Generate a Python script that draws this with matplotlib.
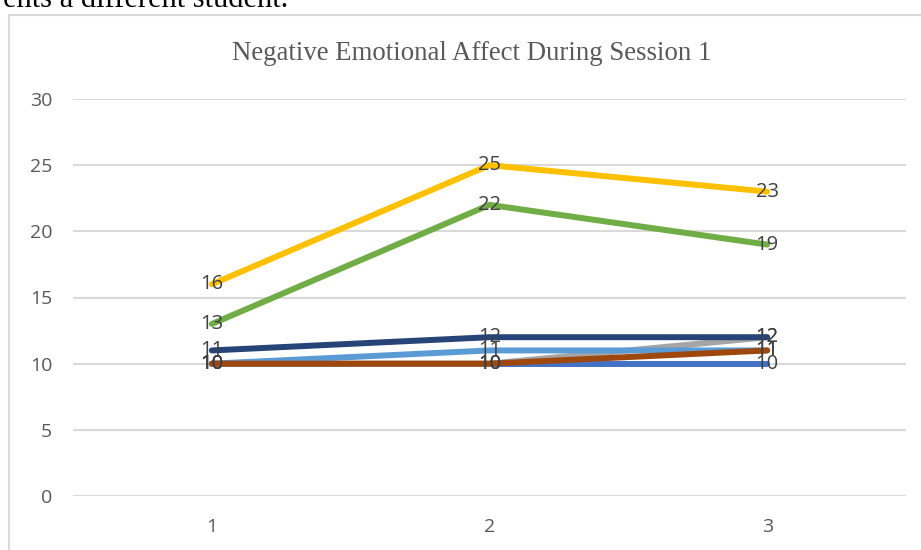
import matplotlib
matplotlib.use("Agg")
import matplotlib.pyplot as plt
from matplotlib.patches import Rectangle

# Sessions on the category axis
sessions = [1, 2, 3]

# Scores per student (one line each)
student_a = [10, 10, 10]   # blue
student_b = [10, 10, 12]   # gray
student_c = [16, 25, 23]   # gold
student_d = [10, 11, 11]   # light blue
student_e = [13, 22, 19]   # green
student_f = [11, 12, 12]   # navy
student_g = [10, 10, 11]   # brown

series = [
    (student_a, "#4472C4"),
    (student_b, "#A5A5A5"),
    (student_c, "#FFC000"),
    (student_d, "#5B9BD5"),
    (student_e, "#70AD47"),
    (student_f, "#264478"),
    (student_g, "#9E480E"),
]

y_ticks = [0, 5, 10, 15, 20, 25, 30]
title = "Negative Emotional Affect During Session 1"

W, H = 921, 550
fig = plt.figure(figsize=(W / 100, H / 100), dpi=100)
fig.patch.set_facecolor("white")

sans = ["Liberation Sans Narrow", "Open Sans", "DejaVu Sans"]
serif = ["Liberation Serif", "DejaVu Serif"]

# Surrounding document text and chart frame
fig.text(288 / W, 1 - 7 / H, "ents a different student.", ha="right", va="baseline",
         fontsize=22, family=serif, color="black")
fig.patches.append(Rectangle((9 / W, -0.1), 1.2, 1 - 15 / H + 0.1,
                             transform=fig.transFigure, fill=False,
                             edgecolor="#D9D9D9", linewidth=1.5))

left, right = 73, 906
bottom, top = 496, 99
ax = fig.add_axes([left / W, 1 - bottom / H, (right - left) / W, (bottom - top) / H])
ax.set_facecolor("none")

for i, (vals, col) in enumerate(series):
    ax.plot(sessions, vals, color=col, linewidth=4.3, solid_capstyle="round",
            zorder=3 + i * 0.1, clip_on=False)
    for x, v in zip(sessions, vals):
        ax.text(x, v, str(v), ha="center", va="center", fontsize=14.5,
                family=sans, color="#404040", zorder=10)

ax.set_xlim(0.5, 3.5)
ax.set_ylim(0, 30)
ax.set_yticks(y_ticks)
ax.set_xticks(sessions)
ax.set_xticklabels([str(s) for s in sessions])
ax.yaxis.grid(True, color="#D9D9D9", linewidth=1.5)
ax.set_axisbelow(True)
for s in ax.spines.values():
    s.set_visible(False)
ax.tick_params(axis="both", length=0, labelsize=14, labelcolor="#595959")
ax.tick_params(axis="y", pad=15)
ax.tick_params(axis="x", pad=16)
for lab in ax.get_xticklabels() + ax.get_yticklabels():
    lab.set_family(sans)

fig.text(472 / W, 1 - 54 / H, title, ha="center", va="center", fontsize=19.3,
         family=serif, color="#595959")

fig.savefig("out.png", dpi=100, facecolor="white")
